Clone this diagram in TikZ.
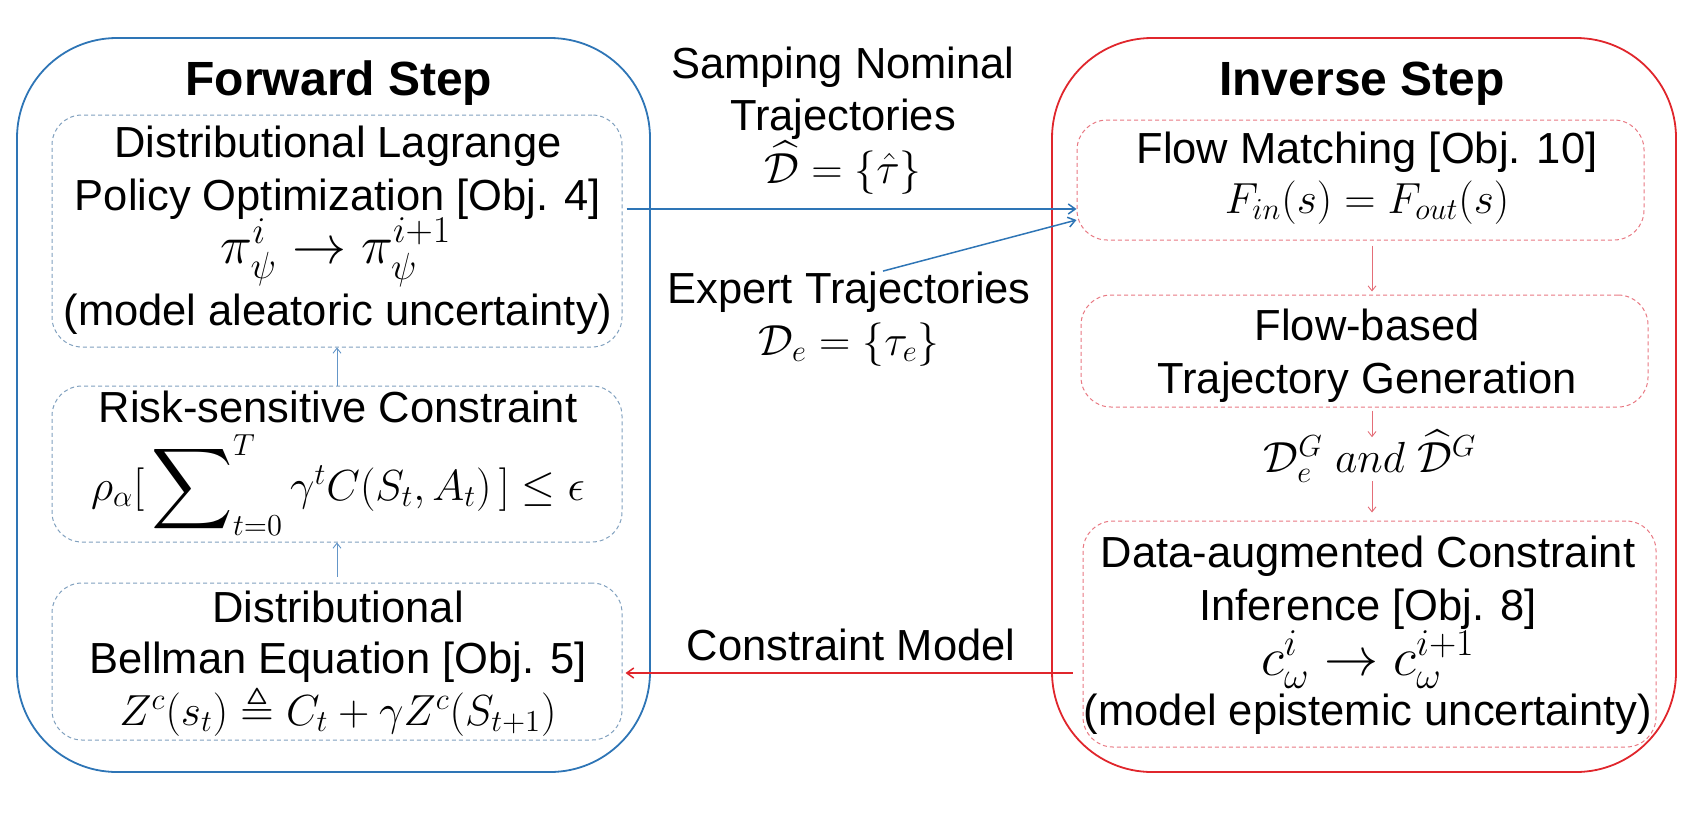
\RequirePackage{fix-cm}
\documentclass[tikz,border=0pt]{standalone}
\usepackage{amsmath,amssymb}
\usepackage{graphicx}
\usepackage{fontspec}
\setmainfont{Liberation Sans}
\usetikzlibrary{arrows.meta}
\definecolor{outblue}{RGB}{46,117,182}
\definecolor{outred}{RGB}{224,38,44}
\definecolor{inblue}{RGB}{128,160,190}
\definecolor{inred}{RGB}{232,120,130}
\definecolor{arrblue}{RGB}{100,150,200}
\definecolor{arrred}{RGB}{228,110,120}
\begin{document}
\begin{tikzpicture}[x=0.5pt,y=-0.5pt,
  outbox/.style={draw, line width=0.9pt, rounded corners=50pt, inner sep=0pt},
  inbox/.style={draw, line width=0.5pt, dash pattern=on 2pt off 1.5pt, rounded corners=15pt, inner sep=0pt},
  txt/.style={anchor=base, inner sep=0pt, font=\fontsize{21.75}{26}\selectfont},
  bigmath/.style={anchor=base, inner sep=0pt, font=\fontsize{27}{31}\selectfont},
  ttl/.style={anchor=base, inner sep=0pt, font=\fontsize{24}{28}\selectfont\bfseries},
  bigarrow/.style={line width=0.75pt, -{Straight Barb[length=3.5pt,width=5pt]}},
  smallarrow/.style={line width=0.45pt, -{Straight Barb[length=2.5pt,width=4pt]}}
]
\useasboundingbox (0,0) rectangle (1706,815);
% outer boxes
\node[outbox, draw=outblue, minimum width=316.5pt, minimum height=367pt] (fwd) at (333.5,405) {};
\node[outbox, draw=outred, minimum width=312pt, minimum height=367pt] (inv) at (1364,405) {};
% inner boxes left
\node[inbox, draw=inblue, minimum width=285pt, minimum height=116pt] (b1) at (337,231) {};
\node[inbox, draw=inblue, minimum width=285pt, minimum height=78pt] (b2) at (337,464) {};
\node[inbox, draw=inblue, minimum width=285pt, minimum height=78.5pt] (b3) at (337,661.5) {};
% inner boxes right
\node[inbox, draw=inred, minimum width=283.5pt, minimum height=60pt] (r1) at (1360.5,180) {};
\node[inbox, draw=inred, minimum width=283.5pt, minimum height=56pt] (r2) at (1364.5,351) {};
\node[inbox, draw=inred, minimum width=286.5pt, minimum height=113pt] (r3) at (1369.5,634) {};
% titles
\node[ttl] (tf) at (339,95) {Forward Step};
\node[ttl] (ti) at (1362,95) {Inverse Step};
% left texts
\node[txt] (b1a) at (338,157) {Distributional Lagrange};
\node[txt] (b1b) at (338,210) {Policy Optimization [Obj. 4]};
\node[bigmath] (b1c) at (336,263) {$\pi_\psi^{i}\rightarrow\pi_\psi^{i+1}$};
\node[txt] (b1d) at (338,325) {(model aleatoric uncertainty)};
\node[txt] (b2a) at (338,422) {Risk-sensitive Constraint};
\node[txt] (b2b) at (338,500) {$\rho_\alpha[\,\mathop{\vcenter{\hbox{\scalebox{1.3}{$\displaystyle\sum$}}}}\nolimits_{t=0}^{T}\gamma^t C(S_t,A_t)\,]\le\epsilon$};
\node[txt] (b3a) at (338,622) {Distributional};
\node[txt] (b3b) at (338,673) {Bellman Equation [Obj. 5]};
\node[txt] (b3c) at (338,725) {$Z^c(s_t)\triangleq C_t+\gamma Z^c(S_{t+1})$};
% right texts
\node[txt] (r1a) at (1367,163) {Flow Matching [Obj. 10]};
\node[txt] (r1b) at (1367,213) {$F_{in}(s)=F_{out}(s)$};
\node[txt] (r2a) at (1367,340) {Flow-based};
\node[txt] (r2b) at (1367,393) {Trajectory Generation};
\node[txt] (dlab) at (1370,472) {$\mathcal{D}_e^G\ and\ \widehat{\mathcal{D}}^G$};
\node[txt] (r3a) at (1368,567) {Data-augmented Constraint};
\node[txt] (r3b) at (1368,620) {Inference [Obj. 8]};
\node[bigmath] (r3c) at (1368,675) {$c_\omega^i\rightarrow c_\omega^{i+1}$};
\node[txt] (r3d) at (1368,725) {(model epistemic uncertainty)};
% middle texts
\node[txt] (m1) at (843,78) {Samping Nominal};
\node[txt] (m2) at (843,130) {Trajectories};
\node[txt] (m3) at (843,183) {$\widehat{\mathcal{D}}=\{\hat{\tau}\}$};
\node[txt] (e1) at (849,303) {Expert Trajectories};
\node[txt] (e2) at (849,355) {$\mathcal{D}_e=\{\tau_e\}$};
\node[txt] (cm) at (851,660) {Constraint Model};
% helper coordinates
\coordinate (ya) at (0,209);
\coordinate (yc) at (0,673);
\coordinate (colR) at (1372,0);
% connectors
\draw[bigarrow, outblue] ([xshift=2pt]b1.east |- ya) -- (r1.west |- ya);
\draw[bigarrow, outblue] ([xshift=17pt]e1.north) -- ([yshift=-20pt]r1.west);
\draw[bigarrow, outred] ([xshift=-5pt]r3.west |- yc) -- ([xshift=1.5pt]b3.east |- yc);
\draw[smallarrow, arrblue] ([yshift=3pt]b3.north) -- (b2.south);
\draw[smallarrow, arrblue] (b2.north) -- (b1.south);
\draw[smallarrow, arrred, shorten <=2.5pt, shorten >=1.5pt] (r1.south -| colR) -- (r2.north -| colR);
\draw[smallarrow, arrred, shorten <=1.5pt, shorten >=-4pt] (r2.south -| colR) -- (dlab.north -| colR);
\draw[smallarrow, arrred, shorten <=-1pt, shorten >=4pt] (dlab.south -| colR) -- (r3.north -| colR);
\end{tikzpicture}
\end{document}
